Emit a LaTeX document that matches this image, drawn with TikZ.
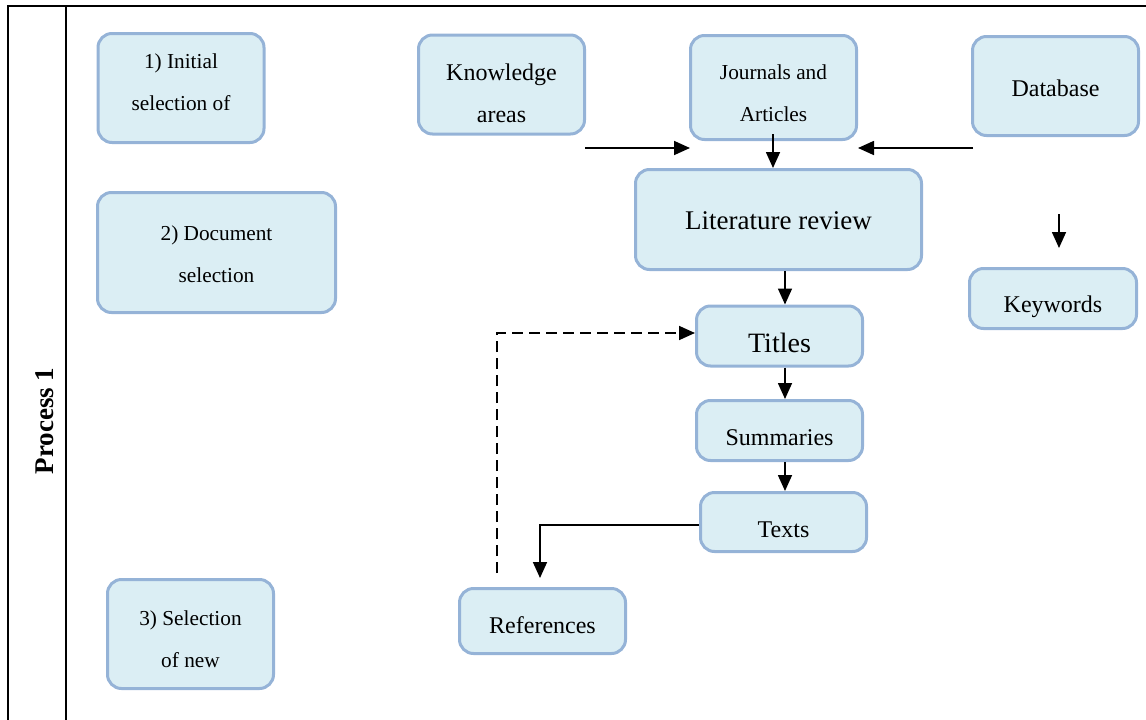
\documentclass[tikz,border=0pt]{standalone}
\usepackage{fontspec}
\setmainfont{Liberation Serif}
\usetikzlibrary{arrows.meta}
\definecolor{boxline}{RGB}{149,179,215}
\definecolor{boxfill}{RGB}{219,238,244}
\begin{document}
\begin{tikzpicture}[x=1pt,y=-1pt,
  box/.style={draw=boxline,fill=boxfill,line width=3pt,rounded corners=14pt,inner sep=0pt,align=center,font=\fontsize{24}{41.7}\selectfont},
  small/.style={font=\fontsize{21.3}{41.7}\selectfont},
  big/.style={font=\fontsize{27}{30}\selectfont},
  arr/.style={line width=1.7pt,-{Triangle[length=16pt,width=14pt]}},
  frame/.style={line width=2.2pt}]
\useasboundingbox (0,0) rectangle (1146,720);
% frame
\coordinate (fTL) at (8,6);
\coordinate (fBL) at (8,720);
\coordinate (fTR) at (1146,6);
\coordinate (iT) at (66,6);
\coordinate (iB) at (66,720);
\draw[frame] (fBL) -- (fTL) -- (fTR);
\draw[frame] (iT) -- (iB);
\node[rotate=90,font=\fontsize{27}{30}\selectfont\bfseries] (proc) at (45,421) {Process 1};
% left column
\node[box,small,minimum width=166pt,minimum height=109pt,text height=44pt,text depth=0pt] (s1) at (181,88) {1) Initial\\selection of};
\node[box,small,minimum width=238pt,minimum height=120pt,text height=59pt,text depth=0pt] (s2) at (216.5,252.5) {2) Document\\selection};
\node[box,small,minimum width=166pt,minimum height=109pt,text height=66pt,text depth=0pt] (s3) at (190.5,634) {3) Selection\\of new};
% top row
\node[box,minimum width=166pt,minimum height=99pt,text height=75pt,text depth=0pt] (know) at (501.5,84.5) {Knowledge\\areas};
\node[box,small,minimum width=166pt,minimum height=104pt,text height=68pt,text depth=0pt] (jour) at (773.5,87.5) {Journals and\\Articles};
\node[box,minimum width=166pt,minimum height=99pt,text height=20pt,text depth=0pt] (db) at (1055.5,86) {Database};
% central column
\node[box,big,minimum width=286pt,minimum height=100pt,text height=19pt,text depth=0pt] (lit) at (778.5,219.5) {Literature review};
\node[box,big,font=\fontsize{28}{30}\selectfont,minimum width=166pt,minimum height=60pt,text height=32pt,text depth=0pt] (tit) at (779.5,336) {Titles};
\node[box,minimum width=166pt,minimum height=60pt,text height=29pt,text depth=0pt] (sum) at (779.5,430.5) {Summaries};
\node[box,minimum width=166pt,minimum height=59pt,text height=30pt,text depth=0pt] (txt) at (783.5,522) {Texts};
\node[box,minimum width=166pt,minimum height=65pt,text height=24pt,text depth=0pt] (ref) at (542.5,621) {References};
\node[box,minimum width=167pt,minimum height=60pt,text height=28pt,text depth=0pt] (kw) at (1053,298.5) {Keywords};
% connectors
\coordinate (kaS) at (585,148);
\coordinate (kaE) at (690,148);
\coordinate (dbS) at (973,148);
\coordinate (dbE) at (858,148);
\coordinate (dkS) at (1059,214);
\coordinate (dkE) at (1059,248);
\coordinate (refT) at (540,578);
\coordinate (dashS) at (497,573);
\draw[arr] (kaS) -- (kaE);
\draw[arr] (dbS) -- (dbE);
\draw[arr] (773,134) -- (lit.north -| 773,0);
\draw[arr] (dkS) -- (dkE);
\draw[arr] (lit.south -| 785,0) -- (tit.north -| 785,0);
\draw[arr] (tit.south -| 785,0) -- (sum.north -| 785,0);
\draw[arr] (sum.south -| 785,0) -- (txt.north -| 785,0);
\draw[arr] (txt.west |- 0,525) -| (refT);
\draw[arr,dash pattern=on 11pt off 6pt] (dashS) |- (tit.west |- 0,333);
\end{tikzpicture}
\end{document}
